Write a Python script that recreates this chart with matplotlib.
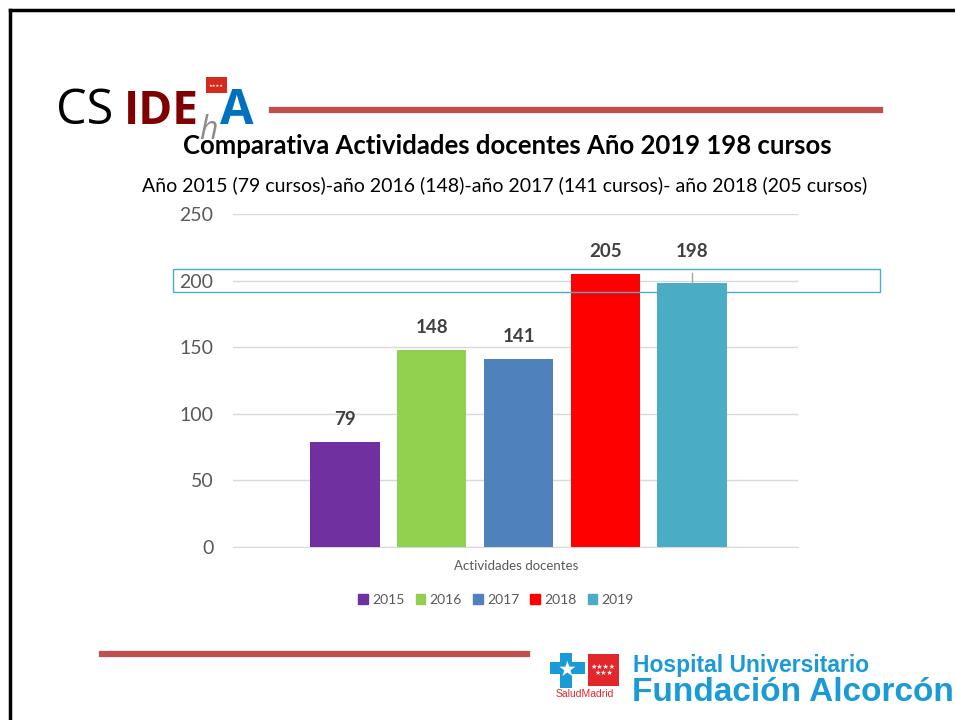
import matplotlib.pyplot as plt
import matplotlib.patches as patches
from matplotlib.lines import Line2D

# Chart data
years = ['2015', '2016', '2017', '2018', '2019']
cursos = [79, 148, 141, 205, 198]
bar_colors = ['#7030A0', '#92D050', '#4F81BD', '#FF0000', '#4BACC6']
category = 'Actividades docentes'
title = 'Comparativa Actividades docentes Año 2019 198 cursos'
subtitle = 'Año 2015 (79 cursos)-año 2016 (148)-año 2017 (141 cursos)- año 2018 (205 cursos)'
y_ticks = [0, 50, 100, 150, 200, 250]

W, H = 955, 720
plt.rcParams['font.family'] = ['Lato', 'DejaVu Sans']


def fx(x):
    return x / W


def fy(y):
    return 1 - y / H


fig = plt.figure(figsize=(W / 100, H / 100), dpi=100)
fig.patch.set_facecolor('white')

# Slide border (left and top)
fig.add_artist(Line2D([fx(10), fx(10)], [fy(720), fy(10)], color='black', lw=2.5))
fig.add_artist(Line2D([fx(10), fx(955)], [fy(10), fy(10)], color='black', lw=2.5))

# Decorative red lines
fig.add_artist(Line2D([fx(272), fx(880)], [fy(110), fy(110)], color='#C0504D', lw=4.5))
fig.add_artist(Line2D([fx(102), fx(527)], [fy(654), fy(654)], color='#C0504D', lw=4.5))

# CS IDEhA logo
logo_font = ['Open Sans', 'DejaVu Sans']
fig.text(fx(56), fy(124), 'CS', fontsize=35, color='black', family=logo_font)
fig.text(fx(124), fy(124), 'IDE', fontsize=33, color='#7F0000', fontweight='bold',
         family=logo_font)
fig.text(fx(199), fy(139), 'h', fontsize=23, color='#8C8C8C', fontstyle='italic',
         family=logo_font)
fig.text(fx(220), fy(124), 'A', fontsize=35, color='#0070C0', fontweight='bold',
         family=logo_font)
fig.add_artist(patches.Rectangle((fx(206), fy(93)), 21 / W, 16 / H, transform=fig.transFigure,
                                 facecolor='#D52B1E', edgecolor='none'))
fig.text(fx(216.5), fy(86), '★★★★', fontsize=3, color='white', ha='center', va='center',
         family=['DejaVu Sans'])

# Titles
fig.text(fx(507), fy(146), title, fontsize=18.5, fontweight='bold', color='black',
         ha='center', va='center')
fig.text(fx(505), fy(185), subtitle, fontsize=14, color='black', ha='center', va='center')

# Chart
ax = fig.add_axes([fx(233), fy(547), (798 - 233) / W, (547 - 214) / H])
positions = [-2, -1, 0, 1, 2]
ax.bar(positions, cursos, width=0.8, color=bar_colors, label=years, zorder=3)
ax.set_xlim(-3.29, 3.22)
ax.set_ylim(0, 250)
ax.set_yticks(y_ticks)
ax.tick_params(axis='y', length=0, labelsize=14, labelcolor='#595959', pad=14)
ax.set_xticks([])
for s in ['top', 'right', 'left']:
    ax.spines[s].set_visible(False)
ax.spines['bottom'].set_color('#D9D9D9')
ax.grid(axis='y', color='#D9D9D9', lw=1, zorder=0)
ax.set_facecolor('none')

for pos, val in zip(positions, cursos):
    off = 10 if val != 198 else 17
    ax.annotate(str(val), (pos, val), xytext=(0, off), textcoords='offset points',
                ha='center', va='bottom', fontsize=13.5, fontweight='bold', color='#404040')
# leader line for the 198 label
ax.plot([2, 2], [198, 205.5], color='#A6A6A6', lw=1, zorder=4)

fig.text(fx(516), fy(566), category, fontsize=9.5, color='#595959', ha='center', va='center')

handles = [patches.Patch(color=c) for c in bar_colors]
fig.legend(handles, years, loc='center', bbox_to_anchor=(fx(496), fy(600)), ncol=5,
           frameon=False, fontsize=10, handlelength=0.7, handleheight=0.7,
           handletextpad=0.3, columnspacing=0.8, labelcolor='#595959')

# Highlight box around 200 line
fig.add_artist(patches.Rectangle((fx(173), fy(292)), (880 - 173) / W, (292 - 269) / H,
                                 transform=fig.transFigure, facecolor='none',
                                 edgecolor='#4BACC6', lw=1))

# Hospital logo
fig.add_artist(patches.Rectangle((fx(588), fy(686)), 31 / W, 32 / H, transform=fig.transFigure,
                                 facecolor='#E3262A', edgecolor='none'))
fig.text(fx(603.5), fy(670), '★★★★\n★★★', fontsize=5, color='white', ha='center', va='center',
         linespacing=0.9, family=['DejaVu Sans'])
cross = patches.Polygon([(fx(x), fy(y)) for x, y in [
    (560, 653), (572, 653), (572, 662), (585, 662), (585, 674), (572, 674), (572, 688),
    (560, 688), (560, 674), (550, 674), (550, 662), (560, 662)]],
    closed=True, transform=fig.transFigure, facecolor='#1A9AD6', edgecolor='none')
fig.add_artist(cross)
fig.text(fx(567), fy(670), '★', fontsize=15, color='white', ha='center', va='center',
         family=['DejaVu Sans'])
fig.text(fx(585), fy(694), 'SaludMadrid', fontsize=7.5, color='#E3262A', ha='center',
         va='center', family=['Liberation Sans', 'DejaVu Sans'])
fig.text(fx(633), fy(672), 'Hospital Universitario', fontsize=16.5, fontweight='bold',
         color='#1A9AD6', family=['Liberation Sans', 'DejaVu Sans'])
fig.text(fx(632), fy(701), 'Fundación Alcorcón', fontsize=24, fontweight='bold',
         color='#1A9AD6', family=['Liberation Sans', 'DejaVu Sans'])

fig.savefig('out.png', dpi=100)
